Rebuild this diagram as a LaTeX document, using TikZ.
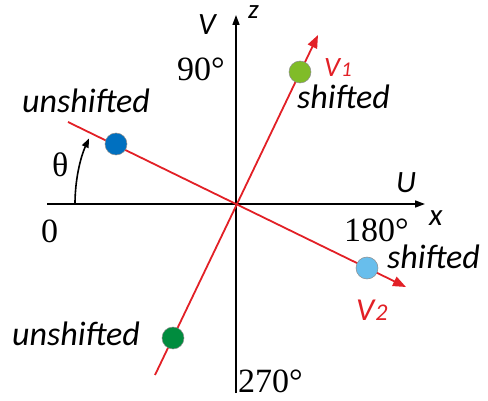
\documentclass[tikz,border=0pt]{standalone}
\usepackage{fontspec}
\setmainfont{Liberation Serif}
\newfontfamily\labfont{Carlito}
\usetikzlibrary{arrows.meta}
\definecolor{vred}{RGB}{226,32,38}
\definecolor{dblue}{RGB}{0,112,192}
\definecolor{lblue}{RGB}{104,190,236}
\definecolor{lgreen}{RGB}{128,188,40}
\definecolor{dgreen}{RGB}{0,140,62}
\tikzset{
  axisline/.style={line width=1.6pt, -{Triangle[length=10pt,width=7pt]}},
  redline/.style={draw=vred, line width=1.8pt, -{Triangle[length=13pt,width=10pt]}},
  dot/.style={circle, minimum size=22pt, inner sep=0pt, draw=black!45, line width=0.5pt},
  lab/.style={font=\labfont\itshape\fontsize{34}{40}\selectfont, inner sep=0pt, anchor=base west},
  axlab/.style={font=\labfont\itshape\fontsize{31}{36}\selectfont, inner sep=0pt, anchor=base west},
  vlab/.style={font=\labfont\itshape\fontsize{#1}{36}\selectfont, text=vred, inner sep=0pt, anchor=base west},
  num/.style={font=\fontsize{34}{40}\selectfont, inner sep=0pt, anchor=base west},
}
\begin{document}
\begin{tikzpicture}[x=1pt,y=-1pt]
\useasboundingbox (0,0) rectangle (488,401);
% axes
\coordinate (O) at (236,204);
\coordinate (xl) at (47,204);
\coordinate (xr) at (425,204);
\coordinate (zb) at (236,393);
\coordinate (zt) at (236,15);
\draw[line width=1.6pt] (xl) -- (O);
\draw[axisline] (O) -- (xr);
\draw[line width=1.6pt] (zb) -- (O);
\draw[axisline] (O) -- (zt);
% red lines
\coordinate (a1) at (68,122);
\coordinate (a2) at (406,287);
\coordinate (b1) at (155,375);
\coordinate (b2) at (318,35);
\draw[redline] (a1) -- (a2);
\draw[redline] (b1) -- (b2);
% theta arc
\coordinate (th0) at (75,204);
\draw[line width=1.6pt, -{Triangle[length=9pt,width=7pt]}] (th0) arc[start angle=180, end angle=204, radius=161];
% dots
\node[dot, fill=dblue] (d1) at (116,144) {};
\node[dot, fill=lblue] (d2) at (367,268) {};
\node[dot, fill=lgreen] (d3) at (300,72) {};
\node[dot, fill=dgreen] (d4) at (173,338) {};
% labels
\node[lab] (u1) at (22,113) {unshifted};
\node[lab] (u2) at (12,345) {unshifted};
\node[lab] (s1) at (297,109) {shifted};
\node[lab] (s2) at (387,269) {shifted};
\node[axlab] (lV) at (198,35) {V};
\node[axlab, font=\labfont\itshape\fontsize{27}{30}\selectfont] (lz) at (248,19) {z};
\node[axlab] (lU) at (396,193) {U};
\node[axlab] (lx) at (429,226) {x};
\node[vlab=28] (v1) at (324,77) {V\kern1pt\fontsize{21}{20}\selectfont 1};
\node[vlab=32] (v2) at (356,320) {V\kern1pt\fontsize{24}{20}\selectfont 2};
\node[num] (n90) at (177,81) {90°};
\node[num] (n180) at (344,242) {180°};
\node[num] (n270) at (238,392) {270°};
\node[num] (n0) at (41,243) {0};
\node[num] (nth) at (52,177) {θ};
\end{tikzpicture}
\end{document}
